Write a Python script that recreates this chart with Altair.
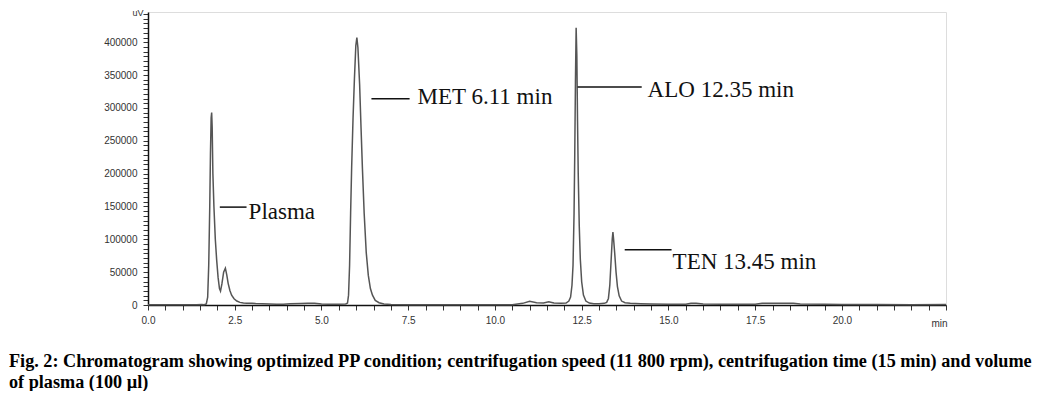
import altair as alt
import pandas as pd

# Chromatogram trace (retention time in min, signal in uV)
time_min = [0.0, 0.5, 1.0, 1.4, 1.55, 1.62, 1.68, 1.72, 1.75, 1.78, 1.80, 1.82, 1.835, 1.85, 1.87,
            1.90, 1.94, 1.98, 2.02, 2.06, 2.09, 2.13, 2.18, 2.23, 2.27, 2.31, 2.36, 2.41, 2.48,
            2.56, 2.65, 2.75, 2.85, 3.0, 3.1, 3.3, 3.5, 3.7, 3.9, 4.1, 4.4, 4.6, 4.8, 5.0, 5.2,
            5.5, 5.7, 5.75, 5.78, 5.81, 5.84, 5.87, 5.91, 5.95, 5.99, 6.02, 6.05, 6.10, 6.14,
            6.18, 6.23, 6.29, 6.35, 6.41, 6.47, 6.55, 6.66, 6.8, 7.0, 7.5, 8.0, 9.0, 10.0, 10.5,
            10.8, 11.0, 11.2, 11.4, 11.55, 11.7, 11.9, 12.05, 12.13, 12.18, 12.22, 12.25, 12.28,
            12.30, 12.32, 12.34, 12.36, 12.38, 12.40, 12.43, 12.46, 12.50, 12.55, 12.62, 12.72,
            12.85, 13.0, 13.15, 13.22, 13.27, 13.31, 13.35, 13.38, 13.40, 13.42, 13.45, 13.49,
            13.53, 13.58, 13.65, 13.75, 13.9, 14.2, 14.5, 15.0, 15.5, 15.65, 15.8, 16.0, 16.5,
            17.0, 17.5, 17.7, 18.2, 18.6, 18.8, 19.5, 20.0, 20.5, 21.0, 22.0, 23.0]
signal_uv = [300, 300, 400, 500, 900, 300, 1500, 12000, 60000, 150000, 230000, 285000, 293000,
             270000, 200000, 150000, 100000, 68000, 42000, 25000, 21000, 32000, 50000, 56000,
             46000, 33000, 22000, 15000, 9500, 6000, 4000, 3000, 2500, 2800, 2200, 1800, 1500,
             1000, 1200, 1800, 2300, 2800, 2500, 1500, 1200, 1000, 1500, 3000, 15000, 60000,
             140000, 210000, 285000, 345000, 395000, 407000, 392000, 335000, 270000, 208000,
             140000, 80000, 45000, 25000, 15000, 7000, 3500, 1500, 800, 500, 300, 300, 300, 500,
             2500, 5500, 3500, 3000, 5000, 3000, 2500, 3000, 6000, 12000, 30000, 60000, 140000,
             230000, 340000, 422000, 380000, 280000, 200000, 120000, 70000, 35000, 15000, 6000,
             3000, 2000, 2000, 2500, 4000, 10000, 30000, 70000, 100000, 111000, 100000, 80000,
             50000, 28000, 14000, 6000, 3500, 2500, 2000, 1500, 1000, 1000, 2500, 2500, 1500,
             1000, 1000, 1200, 2500, 2600, 2500, 1500, 1000, 600, 800, 600, 500, 600]

# Peak annotations
ann_labels = ["Plasma", "MET 6.11 min", "ALO 12.35 min", "TEN 13.45 min"]
ann_line_start = [2.07, 6.44, 12.38, 13.74]
ann_line_end = [2.84, 7.54, 14.23, 15.09]
ann_line_level = [149000, 314000, 332000, 84000]
ann_text_x = [2.90, 7.77, 14.40, 15.12]
ann_text_level = [141600, 316000, 327400, 65500]

caption = [
    "Fig. 2: Chromatogram showing optimized PP condition; centrifugation speed (11 800 rpm), centrifugation time (15 min) and volume",
    "of plasma (100 \u00b5l)",
]

X_MAX = 23.0
Y_MAX = 446000

trace = pd.DataFrame({"t": time_min, "v": signal_uv})
ann = pd.DataFrame({
    "label": ann_labels, "t1": ann_line_start, "t2": ann_line_end, "lv": ann_line_level,
    "tx": ann_text_x, "tv": ann_text_level,
})

x_ticks = [i * 0.5 for i in range(int(X_MAX / 0.5) + 1)]
y_ticks = [round(i * 50000 / 7, 3) for i in range(int(Y_MAX / (50000 / 7)) + 1)]

x_scale = alt.Scale(domain=[0, X_MAX], nice=False, zero=False)
y_scale = alt.Scale(domain=[0, Y_MAX], nice=False)

x_axis = alt.Axis(
    values=x_ticks,
    labelExpr="(datum.value <= 21 && abs(datum.value/2.5 - round(datum.value/2.5)) < 0.001) ? format(datum.value, '.1f') : ''",
    title="min", titleAnchor="end", titleAlign="right", titleX=799, titleY=18,
    titleBaseline="middle", titleFontSize=10, titleFontWeight="normal", titleColor="#333",
    titleFont="Liberation Sans",
    ticks=True, tickSize=5, tickColor="#333", tickWidth=1,
    domain=True, domainColor="#111", domainWidth=1.5,
    labelFont="Liberation Sans", labelFontSize=10, labelColor="#333", labelPadding=5,
    grid=False, labelOverlap=False, labelFlush=False,
)
y_axis = alt.Axis(
    values=y_ticks,
    labelExpr="abs(datum.value/50000 - round(datum.value/50000)) < 0.001 ? format(datum.value, 'd') : ''",
    title="uV", titleAngle=0, titleAlign="right", titleX=-5, titleY=-4,
    titleBaseline="top", titleFontSize=9, titleFontWeight="normal", titleColor="#333",
    titleFont="Liberation Sans",
    ticks=True, tickSize=5, tickColor="#333", tickWidth=1,
    domain=True, domainColor="#111", domainWidth=1.5,
    labelFont="Liberation Sans", labelFontSize=10, labelColor="#333", labelPadding=6,
    grid=False, labelOverlap=False,
)

line = alt.Chart(trace).mark_line(color="#555", strokeWidth=1.5, interpolate="linear").encode(
    x=alt.X("t:Q", scale=x_scale, axis=x_axis),
    y=alt.Y("v:Q", scale=y_scale, axis=y_axis),
)

rules = alt.Chart(ann).mark_rule(color="#111", strokeWidth=1.5).encode(
    x=alt.X("t1:Q", scale=x_scale, axis=x_axis),
    x2="t2:Q",
    y=alt.Y("lv:Q", scale=y_scale, axis=y_axis),
)

texts = alt.Chart(ann).mark_text(
    align="left", baseline="middle", font="Liberation Serif", fontSize=23, color="#111"
).encode(
    x=alt.X("tx:Q", scale=x_scale, axis=x_axis),
    y=alt.Y("tv:Q", scale=y_scale, axis=y_axis),
    text="label:N",
)

chart = alt.layer(line, rules, texts).properties(
    width=798,
    height=293,
    padding={"left": 140, "top": 4, "right": 96, "bottom": 86},
    autosize=alt.AutoSizeParams(type="none"),
    title=alt.TitleParams(
        text=caption, orient="bottom", anchor="start", frame="group", dx=-139, offset=25,
        font="Liberation Serif", fontWeight="bold", fontSize=18.2, lineHeight=21, color="#000",
    ),
).configure_view(stroke="#555", strokeWidth=1).configure(background="white")

chart.save("out.html", embed_options={"renderer": "svg", "actions": False})
